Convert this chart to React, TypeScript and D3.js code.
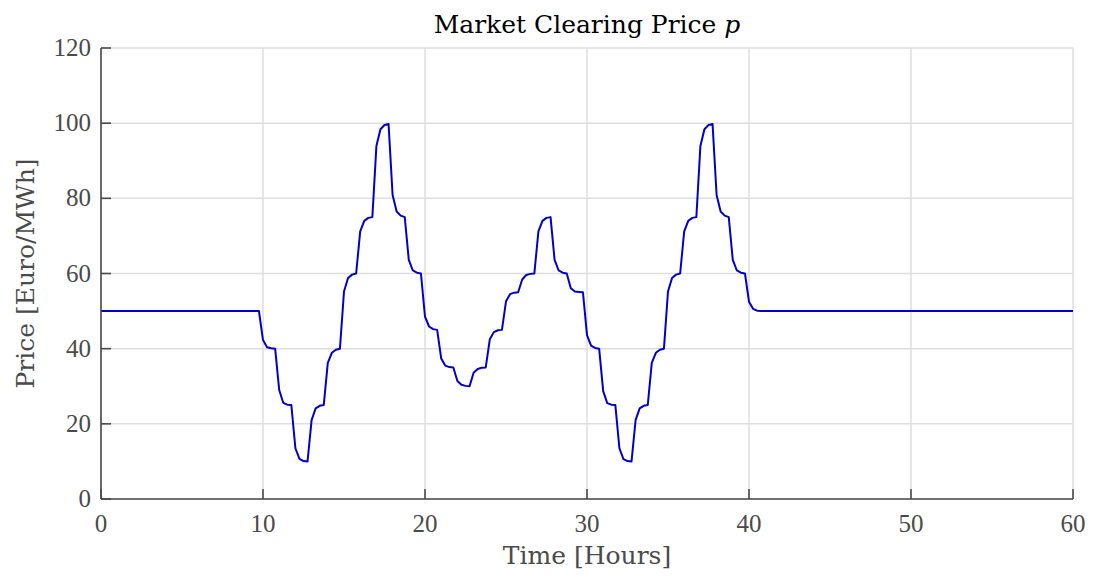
import React from "react";
import * as d3 from "d3";

// Hourly market clearing price trace, sampled every quarter hour
const timeHours: number[] = [
  0, 9.75,
  10, 10.25, 10.5, 10.75,
  11, 11.25, 11.5, 11.75,
  12, 12.25, 12.5, 12.75,
  13, 13.25, 13.5, 13.75,
  14, 14.25, 14.5, 14.75,
  15, 15.25, 15.5, 15.75,
  16, 16.25, 16.5, 16.75,
  17, 17.25, 17.5, 17.75,
  18, 18.25, 18.5, 18.75,
  19, 19.25, 19.5, 19.75,
  20, 20.25, 20.5, 20.75,
  21, 21.25, 21.5, 21.75,
  22, 22.25, 22.5, 22.75,
  23, 23.25, 23.5, 23.75,
  24, 24.25, 24.5, 24.75,
  25, 25.25, 25.5, 25.75,
  26, 26.25, 26.5, 26.75,
  27, 27.25, 27.5, 27.75,
  28, 28.25, 28.5, 28.75,
  29, 29.25, 29.5, 29.75,
  30, 30.25, 30.5, 30.75,
  31, 31.25, 31.5, 31.75,
  32, 32.25, 32.5, 32.75,
  33, 33.25, 33.5, 33.75,
  34, 34.25, 34.5, 34.75,
  35, 35.25, 35.5, 35.75,
  36, 36.25, 36.5, 36.75,
  37, 37.25, 37.5, 37.75,
  38, 38.25, 38.5, 38.75,
  39, 39.25, 39.5, 39.75,
  40, 40.25, 40.5, 40.75,
  60,
];

const priceEuroPerMWh: number[] = [
  50, 50,
  42.3, 40.4, 40.1, 40,
  29, 25.6, 25.1, 25,
  13.5, 10.7, 10.1, 10,
  21, 24.1, 24.8, 25,
  36.2, 38.9, 39.7, 40,
  55.2, 58.8, 59.7, 60,
  71.2, 74, 74.8, 75,
  93.9, 98.4, 99.5, 99.8,
  80.9, 76.5, 75.4, 75,
  63.6, 60.8, 60.2, 60,
  48.5, 45.9, 45.2, 45,
  37.4, 35.5, 35.1, 35,
  31.4, 30.4, 30.1, 30,
  33.6, 34.6, 34.9, 35,
  42.5, 44.4, 44.9, 45,
  52.6, 54.5, 54.9, 55,
  58.4, 59.6, 59.9, 60,
  71.2, 74, 74.8, 75,
  63.6, 60.8, 60.2, 60,
  56.1, 55.2, 55.1, 55,
  43.6, 40.8, 40.2, 40,
  28.7, 25.5, 25.1, 25,
  13.5, 10.6, 10.1, 10,
  21, 24.1, 24.8, 25,
  36.2, 38.9, 39.7, 40,
  55.2, 58.8, 59.7, 60,
  71.2, 74, 74.8, 75,
  93.9, 98.4, 99.5, 99.8,
  80.9, 76.5, 75.4, 75,
  63.6, 60.8, 60.2, 60,
  52.5, 50.6, 50.1, 50,
  50,
];

const xTicks: number[] = [0, 10, 20, 30, 40, 50, 60];
const yTicks: number[] = [0, 20, 40, 60, 80, 100, 120];

const W = 1093;
const H = 577;
const M = { left: 101, right: 1073, top: 48, bottom: 499 };
const TICK_FONT = "'Liberation Serif', 'Times New Roman', serif";
const LABEL_FONT = "'DejaVu Serif', serif";
const AXIS_COLOR = "#4a4a4a";
const GRID_COLOR = "#dedede";

export default function App() {
  const x = d3.scaleLinear().domain([0, 60]).range([M.left, M.right]);
  const y = d3.scaleLinear().domain([0, 120]).range([M.bottom, M.top]);

  const points: [number, number][] = timeHours.map((t, i) => [t, priceEuroPerMWh[i]]);
  const line = d3
    .line<[number, number]>()
    .x((d) => x(d[0]))
    .y((d) => y(d[1]))
    .curve(d3.curveLinear);

  const tickLen = 10;

  return (
    <svg
      width={W}
      height={H}
      viewBox={`0 0 ${W} ${H}`}
      style={{ position: "absolute", left: 0, top: 0, background: "#fff" }}
    >
      <rect x={0} y={0} width={W} height={H} fill="#fff" />

      {/* grid */}
      <g stroke={GRID_COLOR} strokeWidth={1.5}>
        {xTicks.map((t) => (
          <line key={`gx${t}`} x1={x(t)} x2={x(t)} y1={M.top} y2={M.bottom} />
        ))}
        {yTicks.map((t) => (
          <line key={`gy${t}`} x1={M.left} x2={M.right} y1={y(t)} y2={y(t)} />
        ))}
      </g>

      {/* price trace */}
      <path
        d={line(points) ?? ""}
        fill="none"
        stroke="#0000cd"
        strokeWidth={2}
        strokeLinejoin="round"
      />

      {/* axes */}
      <g stroke={AXIS_COLOR} strokeWidth={1.6} fill="none">
        <line x1={M.left} x2={M.right} y1={M.bottom} y2={M.bottom} />
        <line x1={M.left} x2={M.left} y1={M.top} y2={M.bottom} />
        {xTicks.map((t) => (
          <line key={`tx${t}`} x1={x(t)} x2={x(t)} y1={M.bottom} y2={M.bottom - tickLen} />
        ))}
        {yTicks.map((t) => (
          <line key={`ty${t}`} x1={M.left} x2={M.left + tickLen} y1={y(t)} y2={y(t)} />
        ))}
      </g>

      {/* tick labels */}
      <g fontFamily={TICK_FONT} fontSize={25} fill={AXIS_COLOR}>
        {xTicks.map((t) => (
          <text key={`lx${t}`} x={x(t)} y={M.bottom + 33} textAnchor="middle">
            {t}
          </text>
        ))}
        {yTicks.map((t) => (
          <text key={`ly${t}`} x={M.left - 10} y={y(t) + 8} textAnchor="end">
            {t}
          </text>
        ))}
      </g>

      {/* axis titles */}
      <text
        x={(M.left + M.right) / 2}
        y={564}
        textAnchor="middle"
        fontFamily={LABEL_FONT}
        fontSize={25}
        fill={AXIS_COLOR}
      >
        Time [Hours]
      </text>
      <text
        transform={`translate(34, ${(M.top + M.bottom) / 2}) rotate(-90)`}
        textAnchor="middle"
        fontFamily={LABEL_FONT}
        fontSize={25}
        fill={AXIS_COLOR}
      >
        Price [Euro/MWh]
      </text>

      {/* title */}
      <text
        x={(M.left + M.right) / 2}
        y={33}
        textAnchor="middle"
        fontFamily={LABEL_FONT}
        fontSize={25}
        fill="#000"
      >
        Market Clearing Price <tspan fontStyle="italic">p</tspan>
      </text>
    </svg>
  );
}
